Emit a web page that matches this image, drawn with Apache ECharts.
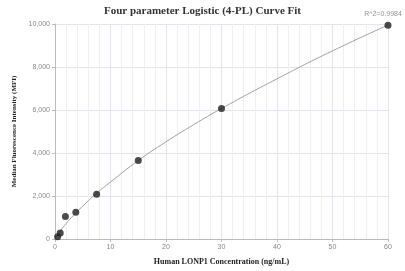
<!DOCTYPE html>
<html><head><meta charset="utf-8">
<script src="https://cdn.jsdelivr.net/npm/echarts@6/dist/echarts.min.js"></script>
<style>html,body{margin:0;padding:0;background:#fff}#c{width:405px;height:271px}</style>
</head><body><div id="c"></div>
<script>
const conc = [0.469, 0.938, 1.875, 3.75, 7.5, 15, 30, 60];
const mfi = [110, 280, 1050, 1240, 2080, 3650, 6070, 9940];
const fitX = [0, 0.5, 1, 2, 3, 4, 5, 7.5, 10, 15, 20, 25, 30, 40, 50, 60];
const fitY = [30, 200, 380, 720, 1010, 1280, 1530, 2130, 2650, 3650, 4520, 5320, 6070, 7450, 8750, 9950];
const r2Label = 'R^2=0.9984';
const yTicks = [0, 2000, 4000, 6000, 8000, 10000];

const chart = echarts.init(document.getElementById('c'));
const pts = conc.map((x, i) => [x, mfi[i]]);
chart.setOption({
  animation: false,
  title: {text: 'Four parameter Logistic (4-PL) Curve Fit', left: 'center', top: 1,
    textStyle: {fontFamily: 'Liberation Serif', fontWeight: 'bold', fontSize: 11, color: '#333'}},
  grid: {left: 55, right: 17, top: 24, bottom: 31},
  xAxis: {type: 'value', min: 0, max: 60, interval: 10,
    name: 'Human LONP1 Concentration (ng/mL)', nameLocation: 'middle', nameGap: 19,
    nameTextStyle: {fontFamily: 'Liberation Serif', fontWeight: 'bold', fontSize: 8, color: '#222'},
    axisLine: {lineStyle: {color: '#bbb'}}, axisTick: {length: 3, lineStyle: {color: '#bbb'}},
    axisLabel: {fontSize: 7, color: '#888', margin: 5},
    splitLine: {show: true, lineStyle: {color: '#e4e4ec', width: 1}},
    minorTick: {show: false, splitNumber: 5},
    minorSplitLine: {show: true, lineStyle: {color: '#eeeef3', width: 1}}},
  yAxis: {type: 'value', min: 0, max: 10000, interval: 2000,
    name: 'Median Fluorescence Intensity (MFI)', nameLocation: 'middle', nameGap: 36,
    nameTextStyle: {fontFamily: 'Liberation Serif', fontWeight: 'bold', fontSize: 7, color: '#222'},
    axisLine: {show: true, lineStyle: {color: '#bbb'}}, axisTick: {show: true, length: 3, lineStyle: {color: '#bbb'}},
    axisLabel: {fontSize: 7, color: '#888', margin: 5,
      formatter: v => yTicks.includes(v) ? v.toLocaleString('en-US') : ''},
    splitLine: {show: true, lineStyle: {color: '#e4e4ec', width: 1}}},
  series: [
    {type: 'line', data: fitX.map((x, i) => [x, fitY[i]]), smooth: true, showSymbol: false,
      lineStyle: {color: '#a0a0a0', width: 1}, z: 2},
    {type: 'scatter', data: pts, symbolSize: 7, itemStyle: {color: '#1e1e1e'}, z: 3,
      label: {show: true, position: 'top', offset: [-5, 1], fontSize: 7, color: '#777',
        formatter: p => p.dataIndex === conc.length - 1 ? r2Label : ''}}
  ]
});
</script></body></html>
